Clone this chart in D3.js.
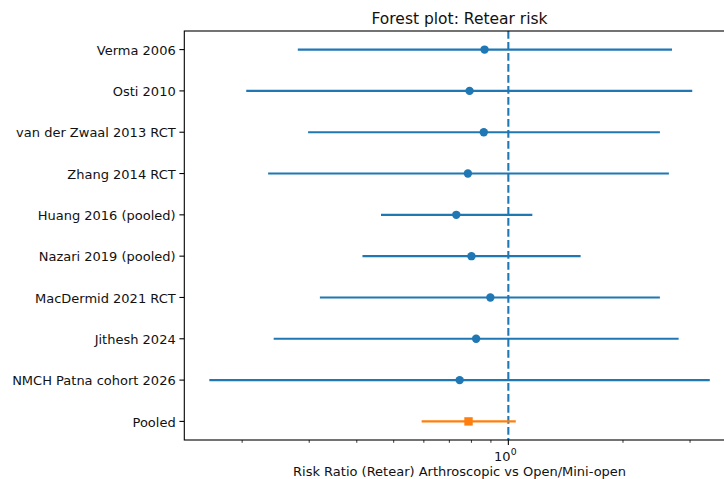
<!DOCTYPE html>
<html>
<head>
<meta charset="utf-8">
<script src="https://cdn.jsdelivr.net/npm/d3@7"></script>
<style>
	body { margin: 0; background: #fff; }
	svg { display: block; font-family: 'DejaVu Sans', sans-serif; }
</style>
</head>
<body>
<svg width="724" height="479"></svg>
<script>
const studies = ['Verma 2006', 'Osti 2010', 'van der Zwaal 2013 RCT', 'Zhang 2014 RCT', 'Huang 2016 (pooled)',
	'Nazari 2019 (pooled)', 'MacDermid 2021 RCT', 'Jithesh 2024', 'NMCH Patna cohort 2026', 'Pooled']
const rr = [0.866, 0.791, 0.862, 0.783, 0.730, 0.800, 0.897, 0.823, 0.745, 0.786]
const lower = [0.280, 0.205, 0.298, 0.234, 0.463, 0.414, 0.320, 0.242, 0.164, 0.592]
const upper = [2.69, 3.04, 2.50, 2.64, 1.156, 1.548, 2.50, 2.80, 3.38, 1.046]
const majorTicks = [1]
const minorTicks = [0.2, 0.3, 0.4, 0.5, 0.6, 0.7, 0.8, 0.9, 2, 3]

const rows = studies.map((s, i) => ({ name: s, rr: rr[i], lo: lower[i], hi: upper[i], pooled: s === 'Pooled', i }))

const m = { left: 184.3, top: 31, bottom: 440, right: 734.8 }
const svg = d3.select('svg')

// matplotlib style 5% margins in log space
const lmin = Math.log10(d3.min(lower)), lmax = Math.log10(d3.max(upper))
const pad = (lmax - lmin) * .05
const x = d3.scaleLog()
	.domain([10 ** (lmin - pad), 10 ** (lmax + pad)])
	.range([m.left, m.right])
const y = d3.scaleLinear()
	.domain([-0.45, studies.length - 1 + 0.45])
	.range([m.top, m.bottom])

const C0 = '#1f77b4', C1 = '#ff7f0e'

// reference line
svg.append('line')
	.attr('x1', x(1)).attr('x2', x(1))
	.attr('y1', m.top).attr('y2', m.bottom)
	.style('stroke', C0).style('stroke-width', 2.08)
	.style('stroke-dasharray', '7.7,3.3')

const g = svg.selectAll('g.row').data(rows).enter().append('g').attr('class', 'row')
g.append('line')
	.attr('x1', d => x(d.lo)).attr('x2', d => x(d.hi))
	.attr('y1', d => y(d.i)).attr('y2', d => y(d.i))
	.style('stroke', d => d.pooled ? C1 : C0).style('stroke-width', 2.08)
g.filter(d => !d.pooled).append('circle')
	.attr('cx', d => x(d.rr)).attr('cy', d => y(d.i)).attr('r', 4.2)
	.style('fill', C0)
g.filter(d => d.pooled).append('rect')
	.attr('x', d => x(d.rr) - 4.2).attr('y', d => y(d.i) - 4.2)
	.attr('width', 8.4).attr('height', 8.4)
	.style('fill', C1)

// axes frame
svg.append('rect')
	.attr('x', m.left).attr('y', m.top)
	.attr('width', m.right - m.left).attr('height', m.bottom - m.top)
	.style('fill', 'none').style('stroke', '#000').style('stroke-width', 1.1)

// y ticks
svg.selectAll('line.ytick').data(rows).enter().append('line')
	.attr('class', 'ytick')
	.attr('x1', m.left - 4.9).attr('x2', m.left)
	.attr('y1', d => y(d.i)).attr('y2', d => y(d.i))
	.style('stroke', '#000').style('stroke-width', 1.1)
svg.selectAll('text.ylab').data(rows).enter().append('text')
	.attr('class', 'ylab')
	.attr('x', m.left - 8.6).attr('y', d => y(d.i) + 0.5).attr('dy', '0.36em')
	.attr('text-anchor', 'end').style('font-size', '13px').style('fill', '#111')
	.text(d => d.name)

// x ticks
svg.selectAll('line.xminor').data(minorTicks.filter(v => v > x.domain()[0] && v < x.domain()[1])).enter().append('line')
	.attr('class', 'xminor')
	.attr('x1', d => x(d)).attr('x2', d => x(d))
	.attr('y1', m.bottom).attr('y2', m.bottom + 2.8)
	.style('stroke', '#000').style('stroke-width', 0.8)
svg.selectAll('line.xmajor').data(majorTicks).enter().append('line')
	.attr('class', 'xmajor')
	.attr('x1', d => x(d)).attr('x2', d => x(d))
	.attr('y1', m.bottom).attr('y2', m.bottom + 4.9)
	.style('stroke', '#000').style('stroke-width', 1.1)
const xl = svg.selectAll('text.xlab').data(majorTicks).enter().append('text')
	.attr('class', 'xlab')
	.attr('x', d => x(d) - 3).attr('y', 461)
	.attr('text-anchor', 'middle').style('font-size', '13px').style('fill', '#111')
xl.append('tspan').text(d => 10)
xl.append('tspan').attr('dy', -6).style('font-size', '9.3px').text(d => Math.round(Math.log10(d)))

svg.append('text')
	.attr('x', (m.left + m.right) / 2).attr('y', 476)
	.attr('text-anchor', 'middle').style('font-size', '13px').style('fill', '#111')
	.text('Risk Ratio (Retear) Arthroscopic vs Open/Mini-open')
svg.append('text')
	.attr('x', (m.left + m.right) / 2).attr('y', 24)
	.attr('text-anchor', 'middle').style('font-size', '15.5px').style('fill', '#111')
	.text('Forest plot: Retear risk')
</script>
</body>
</html>
